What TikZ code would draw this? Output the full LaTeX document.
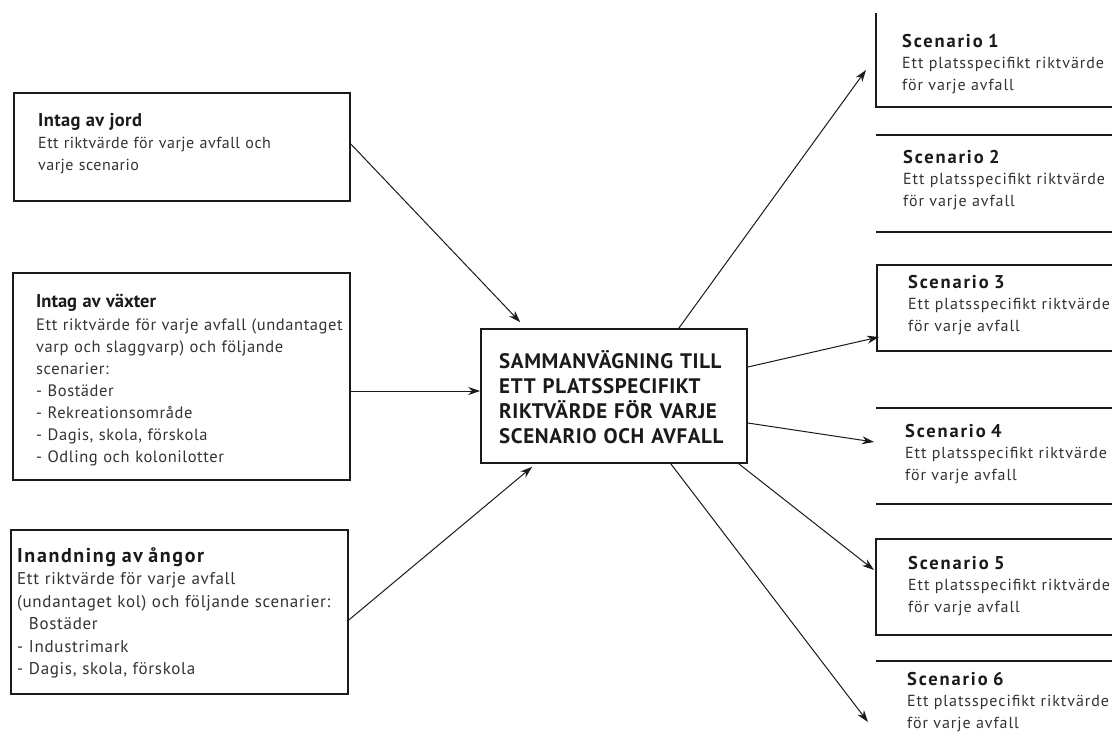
\documentclass[tikz,border=0pt]{standalone}
\usepackage{fontspec}
\setmainfont{PT Sans}
\usetikzlibrary{arrows.meta}
\definecolor{ink}{HTML}{1A1A1A}
\definecolor{bodyc}{HTML}{333333}
\newcommand{\ttl}[3][0]{{\color{ink}\bfseries\fontsize{#2}{22}\selectfont\addfontfeatures{LetterSpace=#1}#3}}
\begin{document}
\begin{tikzpicture}[x=1pt,y=-1pt,
  box/.style={draw=ink, line width=1.6pt, inner sep=0pt},
  edge/.style={draw=ink, line width=1.6pt},
  ltxt/.style={anchor=base west, inner sep=0pt, text width=345pt, align=left, text=bodyc},
  stxt/.style={anchor=base west, inner sep=0pt, text width=230pt, align=left, text=bodyc,
    font=\fontsize{16}{21.5}\selectfont\addfontfeatures{LetterSpace=6}},
  ctxt/.style={anchor=base west, inner sep=0pt, text width=270pt, align=left, text=ink,
    font=\bfseries\fontsize{21}{25}\selectfont\addfontfeatures{LetterSpace=3}},
  arr/.style={draw=ink, line width=1pt, -{Stealth[length=12pt,width=8pt]}},
]
\fill[white] (0,0) rectangle (1112,753);
\useasboundingbox (0,0) rectangle (1112,753);

% left boxes
\node[box, minimum width=336pt, minimum height=108pt] (jord) at (182,147) {};
\node[ltxt, font=\fontsize{16}{22}\selectfont\addfontfeatures{LetterSpace=3}] (tjord) at (38,126) {\ttl[2]{18.5}{Intag av jord}\\
Ett riktvärde för varje avfall och\\
varje scenario};

\node[box, minimum width=337pt, minimum height=207pt] (vaxter) at (181.5,376.5) {};
\node[ltxt, font=\fontsize{16.5}{22}\selectfont\addfontfeatures{LetterSpace=3.5}] (tvaxter) at (36,307) {\ttl{18.5}{Intag av växter}\\[1pt]
Ett riktvärde för varje avfall (undantaget\\
varp och slaggvarp) och följande\\
scenarier:\\
- Bostäder\\
- Rekreationsområde\\
- Dagis, skola, förskola\\
- Odling och kolonilotter};

\node[box, minimum width=337pt, minimum height=164pt] (angor) at (179.5,612) {};
\node[ltxt, font=\fontsize{17}{22.5}\selectfont\addfontfeatures{LetterSpace=4}] (tangor) at (17,562) {\ttl[8]{20}{Inandning av ångor}\\
Ett riktvärde för varje avfall\\
(undantaget kol) och följande scenarier:\\
\phantom{-} Bostäder\\
- Industrimark\\
- Dagis, skola, förskola};

% center box
\node[box, minimum width=266pt, minimum height=134pt] (ctr) at (614,396) {};
\node[ctxt] (tctr) at (499,368) {SAMMANVÄGNING TILL\\
ETT PLATSSPECIFIKT\\
RIKTVÄRDE FÖR VARJE\\
SCENARIO OCH AVFALL};

% right side scenario frames (cut by the picture edge)
\draw[edge] (876,13) -- (876,107) -- (1112,107);
\draw[edge] (876,135) -- (1112,135);
\draw[edge] (876,232) -- (1112,232);
\draw[edge] (1112,265) -- (877,265) -- (877,351) -- (1112,351);
\draw[edge] (876,408) -- (1112,408);
\draw[edge] (876,504) -- (1112,504);
\draw[edge] (1112,539) -- (876,539) -- (876,635) -- (1112,635);
\draw[edge] (876,661) -- (1112,661);

\node[stxt] (s1) at (902,47) {\ttl[10]{18.5}{Scenario 1}\\ Ett platsspecifikt riktvärde\\ för varje avfall};
\node[stxt] (s2) at (903,163) {\ttl[10]{18.5}{Scenario 2}\\ Ett platsspecifikt riktvärde\\ för varje avfall};
\node[stxt] (s3) at (908,288) {\ttl[10]{18.5}{Scenario 3}\\ Ett platsspecifikt riktvärde\\ för varje avfall};
\node[stxt] (s4) at (905,437) {\ttl[10]{18.5}{Scenario 4}\\ Ett platsspecifikt riktvärde\\ för varje avfall};
\node[stxt] (s5) at (908,569) {\ttl[10]{18.5}{Scenario 5}\\ Ett platsspecifikt riktvärde\\ för varje avfall};
\node[stxt] (s6) at (907,685) {\ttl[10]{18.5}{Scenario 6}\\ Ett platsspecifikt riktvärde\\ för varje avfall};

\coordinate (e1) at (866,70);
\coordinate (e3) at (879,337);
\coordinate (e4) at (874,442);
\coordinate (e5) at (874,570);
\coordinate (e6) at (868,722);

% incoming arrows
\draw[arr] ([yshift=3pt]jord.east) -- ([xshift=40pt,yshift=6pt]ctr.north west);
\draw[arr] ([yshift=-14.5pt]vaxter.east) -- ([yshift=5pt]ctr.west);
\draw[arr] ([yshift=-8pt]angor.east) -- ([xshift=52pt,yshift=-3pt]ctr.south west);

% outgoing arrows
\draw[arr] ([xshift=-69pt]ctr.north east) -- (e1);
\draw[arr] ([yshift=29pt]ctr.east) -- (e3);
\draw[arr] ([yshift=-27pt]ctr.east) -- (e4);
\draw[arr] ([xshift=-9pt]ctr.south east) -- (e5);
\draw[arr] ([xshift=-77pt]ctr.south east) -- (e6);
\end{tikzpicture}
\end{document}
